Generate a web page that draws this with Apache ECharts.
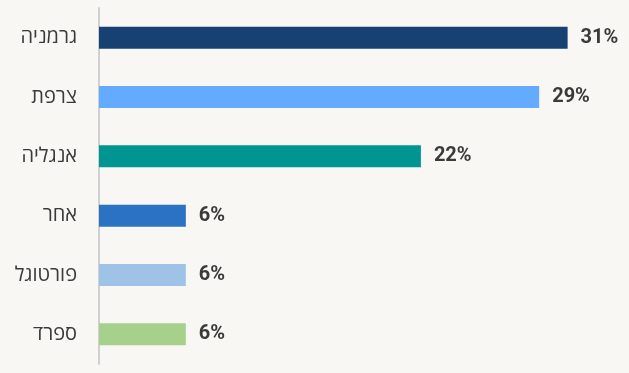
<!DOCTYPE html>
<html><head><meta charset="utf-8">
<script src="https://cdn.jsdelivr.net/npm/echarts@6/dist/echarts.min.js"></script>
<style>html,body{margin:0;padding:0;background:#f8f7f4;}#c{width:629px;height:373px;}</style>
</head><body><div id="c"></div>
<script>
var categories = ['גרמניה', 'צרפת', 'אנגליה', 'אחר', 'פורטוגל', 'ספרד'];
var values = [31.3, 29.4, 21.5, 5.8, 5.8, 5.8];
var colors = ['#174172', '#64abff', '#009591', '#2b72c3', '#9fc3e6', '#a8d08d'];

var chart = echarts.init(document.getElementById('c'));
chart.setOption({
  backgroundColor: '#f8f7f4',
  animation: false,
  grid: {left: 99, right: 0, top: 8, bottom: 9, containLabel: false},
  xAxis: {type: 'value', min: 0, max: 35.4, show: false},
  yAxis: {
    type: 'category', data: categories, inverse: true,
    axisLine: {show: true, lineStyle: {color: '#d0d0d0', width: 2}},
    axisTick: {show: false},
    axisLabel: {margin: 22, fontSize: 20, color: '#3a3a3a', fontFamily: '"Open Sans", "Liberation Sans", sans-serif'}
  },
  series: [{
    type: 'bar', barWidth: 22,
    data: values.map(function(v, i){ return {value: v, itemStyle: {color: colors[i]}}; }),
    label: {show: true, position: 'right', distance: 13, fontSize: 20, fontWeight: 'bold', color: '#3a3a3a',
      fontFamily: 'Roboto, sans-serif',
      formatter: function(p){ return Math.round(p.value) + '%'; }}
  }]
});
</script></body></html>
